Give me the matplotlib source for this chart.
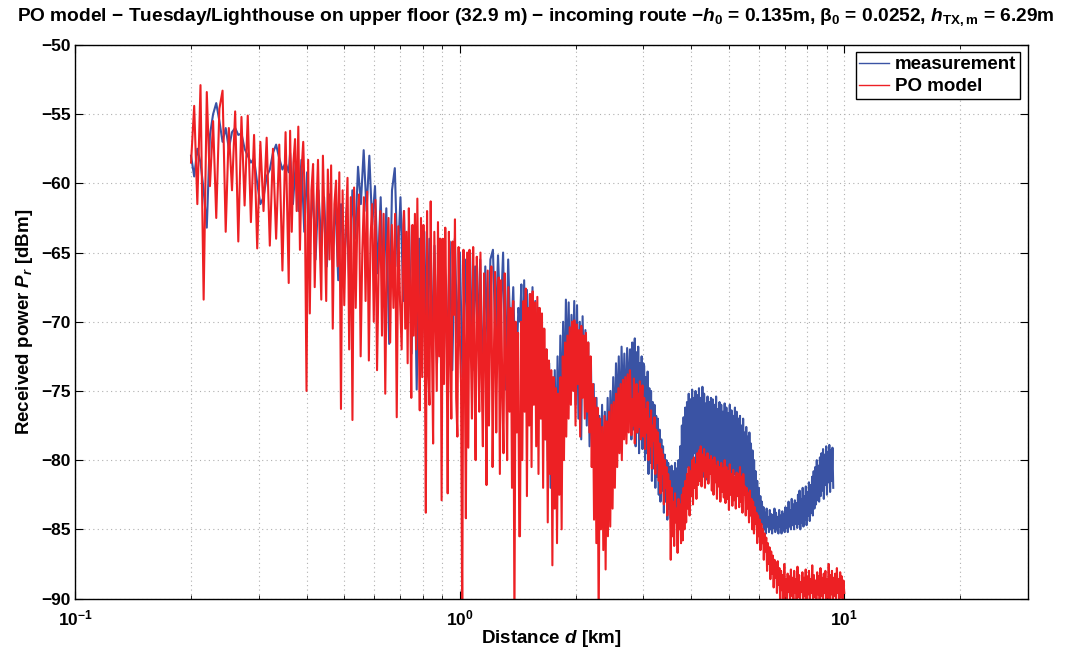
import numpy as np
import matplotlib.pyplot as plt
from matplotlib.ticker import FuncFormatter, LogLocator, NullFormatter, MultipleLocator

plt.rcParams["font.family"] = "Liberation Sans"
plt.rcParams["font.weight"] = "bold"
plt.rcParams["mathtext.fontset"] = "custom"
plt.rcParams["mathtext.rm"] = "Liberation Sans:bold"
plt.rcParams["mathtext.it"] = "Liberation Sans:italic:bold"
plt.rcParams["mathtext.bf"] = "Liberation Sans:bold"

# received power, in dBm, piece by piece along distance (km)
model_1 = [-58.5, -54.4, -61.5, -52.9, -68.4, -53.4, -60.2, -55.5, -62.5, -54.6,
           -53.3, -63.5, -56.0, -60.5, -54.8, -64.2, -55.2, -61.6, -55.1, -62.8,
           -56.5, -64.7, -57.0, -62.0, -56.7, -64.5, -57.5, -64.0, -57.2, -66.3,
           -56.3, -67.2]
model_2 = [-56.2, -63.5, -58.5, -56.8, -62.0, -55.9, -64.8, -59.0, -57.0, -61.5,
           -75.0, -58.3, -69.4, -60.5,
           -58.6, -67.5, -62.0, -58.3, -64.0, -68.4, -58.0, -63.0, -68.5, -59.0,
           -65.5, -58.7, -70.5, -61.5,
           -59.8, -66.0, -59.2, -76.3, -60.5, -68.8, -63.0, -59.6, -72.0, -61.0,
           -77.1, -60.3, -69.0, -62.5,
           -60.8, -72.5, -65.0, -61.0, -68.5, -60.6, -72.8, -64.0, -61.5, -70.0,
           -61.2, -73.5, -66.0, -62.0,
           -71.0, -62.2, -75.2, -65.0, -62.5, -71.5, -63.0, -69.0, -62.2, -76.9,
           -63.1, -68.5, -72.0, -63.0]
model_3 = [-62.0, -70.5, -63.5, -73.0, -61.8, -68.0, -75.5, -63.0, -71.0, -62.2,
           -72.0, -61.1, -69.5, -76.4, -62.5, -74.0,
           -63.0, -70.0, -83.8, -62.0, -73.5, -76.0, -61.3, -71.5, -78.8, -63.5,
           -69.0, -75.0, -62.8, -72.5, -64.0, -82.9,
           -64.0, -74.5, -63.2, -70.0, -82.4, -63.5, -72.0, -77.0, -64.2, -69.5,
           -62.6, -75.5, -78.3, -64.6, -71.0, -74.5,
           -92.0, -64.8, -72.0, -84.2, -65.0, -79.1, -64.8, -71.5, -77.0, -64.6,
           -73.0, -80.0, -65.3, -70.5, -76.5, -65.0,
           -74.0, -79.0, -66.5, -72.0, -81.8, -66.3, -77.5, -70.0, -66.0, -80.5,
           -73.0, -66.4, -78.0, -71.0, -66.8, -81.0,
           -67.0, -75.0, -79.5, -66.5, -72.5, -80.0, -67.5, -76.5, -69.0, -82.0,
           -68.5, -92.0, -70.0, -78.0, -70.8, -85.5]
model_4 = [-85.5, -70.0, -80.0, -68.5, -76.5, -67.6, -82.6, -69.0, -77.5, -68.0,
           -80.5, -67.8, -76.0, -68.6, -79.0, -68.2,
           -81.0, -69.0, -77.0, -69.4, -82.0, -70.5, -78.5, -72.0, -84.5, -72.8,
           -81.0, -73.5, -87.6, -74.0, -83.5, -74.8,
           -86.0, -75.2, -82.5, -74.0, -85.0, -72.5, -80.0, -71.5, -78.3, -71.0,
           -77.0, -70.4, -76.0, -70.0, -75.0, -69.9,
           -77.5, -70.2, -74.5, -70.6, -78.3, -70.3, -75.5, -71.0, -77.0, -70.8,
           -76.5, -71.5, -78.0, -72.5, -80.5, -74.5,
           -84.3, -75.5, -86.0, -76.2, -92.0, -77.0, -85.0, -77.6, -86.5, -76.8,
           -87.9, -77.2, -85.5, -76.5, -84.8, -76.0,
           -83.5, -75.8, -82.0, -75.2, -80.5, -74.8, -79.5, -74.5, -80.0, -74.2,
           -78.5, -74.0, -78.8, -73.8, -78.0, -73.5]
model_5 = [-74.8, -78.2, -75.6, -77.5, -74.1, -78.8, -76.0, -74.5, -78.0, -75.2,
           -77.6, -74.3, -78.5, -75.8, -74.6, -78.3,
           -75.5, -79.2, -76.3, -78.0, -75.8, -80.0, -77.0, -79.0, -76.4, -80.6,
           -77.5, -78.6, -76.9, -81.0, -77.8, -80.2,
           -78.0, -81.5, -78.8, -82.4, -79.2, -81.0, -79.6, -83.2, -80.0, -82.0,
           -80.5, -84.0, -81.0, -83.0, -81.5, -87.2,
           -82.0, -85.5, -83.0, -86.2, -82.4, -84.5, -83.5, -86.7, -82.8, -85.0,
           -83.2, -86.0, -82.5, -85.8, -82.0, -85.0,
           -81.5, -84.5, -81.0, -83.5, -80.5, -84.0, -80.8, -82.6, -80.0, -83.2,
           -79.8, -82.0, -80.3, -82.8, -79.5, -81.8,
           -79.3, -81.5, -79.0, -81.9, -79.6, -80.8, -79.2, -82.0, -79.8, -81.2,
           -79.5, -81.7, -80.0, -81.0, -79.7, -82.2,
           -80.0, -82.5, -79.8, -81.6, -80.4, -82.8, -80.1, -81.9, -80.5, -83.0,
           -80.2, -82.3, -80.6, -82.7, -80.0, -83.1,
           -80.5, -82.8, -80.8, -83.6, -80.3, -82.5, -81.0, -83.3, -80.7, -82.9,
           -81.2, -83.5, -80.9, -82.6, -81.0, -83.4]
model_6 = [-80.5, -83.0, -81.2, -83.8, -81.0, -82.5, -81.9, -84.0, -82.0, -83.5,
           -82.4, -84.5, -82.2, -84.0, -82.8, -85.0,
           -83.0, -85.3, -83.4, -84.6, -83.8, -86.0, -84.0, -85.5, -84.3, -86.5,
           -84.6, -86.0, -85.0, -87.2, -85.3, -86.6,
           -85.6, -88.0, -86.0, -87.5, -86.3, -88.6, -86.6, -88.2, -86.9, -89.2,
           -87.2, -88.5, -87.4, -89.6, -87.3, -89.0,
           -87.8, -90.5, -88.0, -89.4, -88.3, -90.2, -87.5, -89.8, -88.6, -90.5,
           -88.2, -89.5, -88.4, -90.3, -87.9, -89.8,
           -88.5, -90.4, -88.0, -89.6, -88.6, -90.5, -87.7, -89.9, -88.3, -90.2,
           -88.8, -89.5, -88.1, -90.5, -88.5, -89.8,
           -87.9, -90.3, -88.4, -89.7, -88.0, -90.5, -88.6, -89.6, -87.6, -90.2,
           -88.3, -89.9, -88.7, -90.5, -88.1, -89.7,
           -88.4, -90.3, -87.8, -89.8, -88.5, -90.5, -88.2, -89.6, -88.0, -90.4,
           -88.6, -89.9, -87.5, -90.2, -88.3, -89.7,
           -88.0, -90.5, -88.5, -89.8, -88.2, -90.3, -87.8, -89.6, -88.6, -90.5,
           -88.1, -89.9, -88.4, -90.2, -88.7, -89.6]

meas_1 = [-58.0, -59.5, -57.5, -58.5, -60.5, -63.2, -56.5, -55.0, -54.2, -55.5,
          -57.0, -56.0, -57.5, -56.3, -56.0, -56.5, -56.4, -57.5, -58.0, -58.5,
          -58.2, -60.0, -61.5, -61.0, -59.5, -59.0, -57.8, -57.2, -58.2, -59.0,
          -58.5, -59.2]
meas_2 = [-57.8, -61.5, -58.5, -62.0, -58.3, -63.5, -59.2, -64.0, -60.2, -65.5,
          -60.5, -64.5, -61.0, -66.0, -60.8, -65.0, -61.2, -67.0, -61.5, -66.5,
          -61.8, -68.0, -60.5, -64.0, -58.8, -61.5, -57.6, -62.0, -58.0, -63.0,
          -60.2, -66.5, -61.0, -68.0, -61.8, -71.6, -60.5, -58.9, -66.0, -61.0,
          -68.5]
meas_3 = [-62.0, -70.0, -63.0, -72.3, -63.5, -74.9, -64.0, -72.5, -63.5, -73.5,
          -64.0, -71.0, -64.5, -73.0, -64.0, -70.5, -65.0, -72.5, -64.2, -73.5,
          -64.0, -71.5, -65.0, -74.0, -65.5, -72.0, -65.0, -73.5, -66.0, -71.0,
          -65.5, -74.0, -66.0, -72.5, -65.5, -64.8, -71.5, -65.2, -70.0, -65.0,
          -74.9, -65.5, -72.0, -67.5, -75.0, -69.0]
meas_4 = [-70.0, -67.3, -75.0, -67.0, -74.0, -67.7, -76.0, -68.0, -73.5, -67.5,
          -75.5, -68.5, -77.0, -69.0, -75.0, -69.5,
          -77.0, -70.5, -78.5, -72.0, -80.0, -73.0, -82.0, -74.0, -83.0, -73.5,
          -80.5, -72.5, -79.0, -71.0, -77.5, -70.0,
          -75.5, -68.4, -74.0, -68.6, -75.5, -69.5, -73.5, -68.5, -76.0, -68.8,
          -77.0, -70.0, -78.5, -69.6, -75.0, -70.6,
          -77.5, -71.5, -79.0, -73.0, -80.5, -74.5, -82.0, -75.5, -83.5, -76.8,
          -82.5, -76.0, -84.0, -76.5, -81.5, -75.5,
          -80.5, -75.0, -79.0, -74.0, -78.5, -73.0, -77.0, -72.5, -78.0, -71.8,
          -76.5, -72.3, -77.5, -71.9, -76.0, -72.0]
meas_5 = [-72.0, -78.5, -71.5, -77.8, -73.0, -71.2, -79.0, -72.2, -78.0, -71.8,
          -79.5, -73.0, -77.8, -72.5, -79.2, -73.0,
          -73.2, -80.0, -74.0, -79.5, -73.6, -81.0, -74.8, -80.2, -75.0, -81.5,
          -75.8, -80.6, -76.0, -82.0, -76.8, -81.2,
          -77.0, -82.5, -77.8, -83.0, -78.5, -82.2, -79.0, -83.8, -79.6, -83.0,
          -80.0, -84.3, -80.2, -83.5, -80.5, -84.2,
          -80.4, -84.0, -80.8, -84.5, -80.2, -83.6, -80.6, -84.3, -80.0, -84.0,
          -79.0, -83.5, -77.5, -82.8, -76.9, -82.0,
          -76.2, -81.5, -75.8, -80.5, -75.2, -81.4, -75.6, -80.0, -74.9, -80.8,
          -75.5, -79.5, -75.0, -81.0, -75.3, -80.2,
          -74.8, -80.6, -75.5, -79.8, -74.7, -81.2, -75.2, -80.0, -75.9, -81.4,
          -75.4, -80.4, -75.8, -81.0, -75.5, -80.3,
          -75.6, -81.5, -76.0, -80.2, -75.4, -81.2, -76.3, -80.6, -75.8, -81.9,
          -76.0, -80.8, -76.5, -81.3, -75.9, -81.6,
          -76.2, -80.9, -76.6, -81.8, -76.0, -81.2, -76.4, -81.5, -76.8, -81.0,
          -76.2, -81.9, -76.5, -81.3, -77.0, -81.7]
meas_6 = [-76.8, -81.0, -77.5, -82.0, -77.0, -81.5, -78.0, -82.5, -77.6, -82.0,
          -78.3, -83.0, -78.0, -82.4, -78.8,
          -83.0, -79.3, -83.6, -80.0, -84.0, -80.8, -83.8, -81.5, -84.5, -82.0,
          -84.2, -82.6, -85.0, -83.0, -84.6,
          -83.4, -85.0, -83.8, -85.3, -83.5, -84.8, -84.1, -85.2, -83.6, -85.0,
          -83.9, -85.3, -84.0, -84.9, -83.5,
          -85.2, -83.8, -85.0, -84.1, -85.3, -83.6, -84.8, -84.0, -85.3, -83.7,
          -85.0, -83.9, -85.2, -83.4, -84.9,
          -83.5, -85.2, -83.0, -84.8, -83.6, -85.0, -82.8, -84.7, -83.2, -85.0,
          -82.9, -84.6, -83.1, -84.9, -82.5,
          -84.6, -82.2, -85.0, -82.8, -84.5, -82.0, -84.8, -82.6, -84.3, -81.9,
          -84.7, -82.3, -84.0, -81.6, -84.4,
          -81.8, -83.8, -81.2, -84.0, -80.8, -83.5, -80.5, -83.2, -80.0, -82.9,
          -80.4, -83.0, -79.8, -82.6, -79.5,
          -82.2, -79.2, -82.8, -79.6, -81.8, -79.0, -82.5, -79.4, -81.6, -78.9,
          -82.3, -79.3, -81.5, -79.1, -82.0]

# distance span (km) covered by each piece
model_spans = [(0.200, 0.359), (0.362, 0.713), (0.716, 1.428),
               (1.434, 2.77), (2.78, 5.33), (5.355, 10.0)]
meas_spans = [(0.200, 0.359), (0.362, 0.713), (0.716, 1.42),
              (1.434, 2.77), (2.78, 5.33), (5.355, 9.36)]

model_parts = [model_1, model_2, model_3, model_4, model_5, model_6]
meas_parts = [meas_1, meas_2, meas_3, meas_4, meas_5, meas_6]


def join(spans, parts):
    d = np.concatenate([np.geomspace(a, b, len(p)) for (a, b), p in zip(spans, parts)])
    p = np.concatenate(parts)
    return d, p


d_meas, p_meas = join(meas_spans, meas_parts)
d_model, p_model = join(model_spans, model_parts)

fig = plt.figure(figsize=(10.71, 6.51), dpi=100)
ax = fig.add_axes([0.0703, 0.0806, 0.8893, 0.8503])

ax.semilogx(d_meas, p_meas, color="#3a53a4", lw=1.5, label="measurement")
ax.semilogx(d_model, p_model, color="#ed2024", lw=1.5, label="PO model")

ax.set_xlim(0.1, 30)
ax.set_ylim(-90, -50)
ax.yaxis.set_major_locator(MultipleLocator(5))
ax.xaxis.set_major_locator(LogLocator(base=10))
ax.xaxis.set_minor_locator(LogLocator(base=10, subs=np.arange(2, 10)))
ax.xaxis.set_minor_formatter(NullFormatter())
ax.xaxis.set_major_formatter(
    FuncFormatter(lambda v, pos: r"$\mathbf{10^{%d}}$" % round(np.log10(v)))
)

ax.grid(True, which="major", color="#b0b0b0", linestyle=(0, (1, 3)), lw=0.8)
ax.grid(True, which="minor", axis="x", color="#b0b0b0", linestyle=(0, (1, 3)), lw=0.8)
ax.tick_params(which="both", direction="in", top=True, right=True)
ax.tick_params(which="major", length=6, labelsize=12.5)
ax.tick_params(axis="x", which="major", pad=7)
ax.tick_params(which="minor", length=3)
for s in ax.spines.values():
    s.set_linewidth(1.0)

ax.set_xlabel("Distance $d$ [km]", fontsize=13.5, fontweight="bold", labelpad=0)
ax.set_ylabel("Received power $P_r$ [dBm]", fontsize=13.5, fontweight="bold", labelpad=4)
fig.suptitle(
    r"PO model − Tuesday/Lighthouse on upper floor (32.9 m) − incoming route −$h_0$ = 0.135m, "
    r"β$_0$ = 0.0252, $h_{\mathrm{TX,m}}$ = 6.29m",
    x=0.5, y=0.99, va="top", fontsize=13.8, fontweight="bold",
)

leg = ax.legend(loc="upper right", fontsize=13.5, fancybox=False, framealpha=1,
                edgecolor="black", handlelength=1.6, borderaxespad=0.4,
                borderpad=0.2, labelspacing=0.25, handletextpad=0.3)
leg.get_frame().set_linewidth(1.0)
for line in leg.get_lines():
    line.set_linewidth(1.0)

fig.savefig("out.png", dpi=100)
